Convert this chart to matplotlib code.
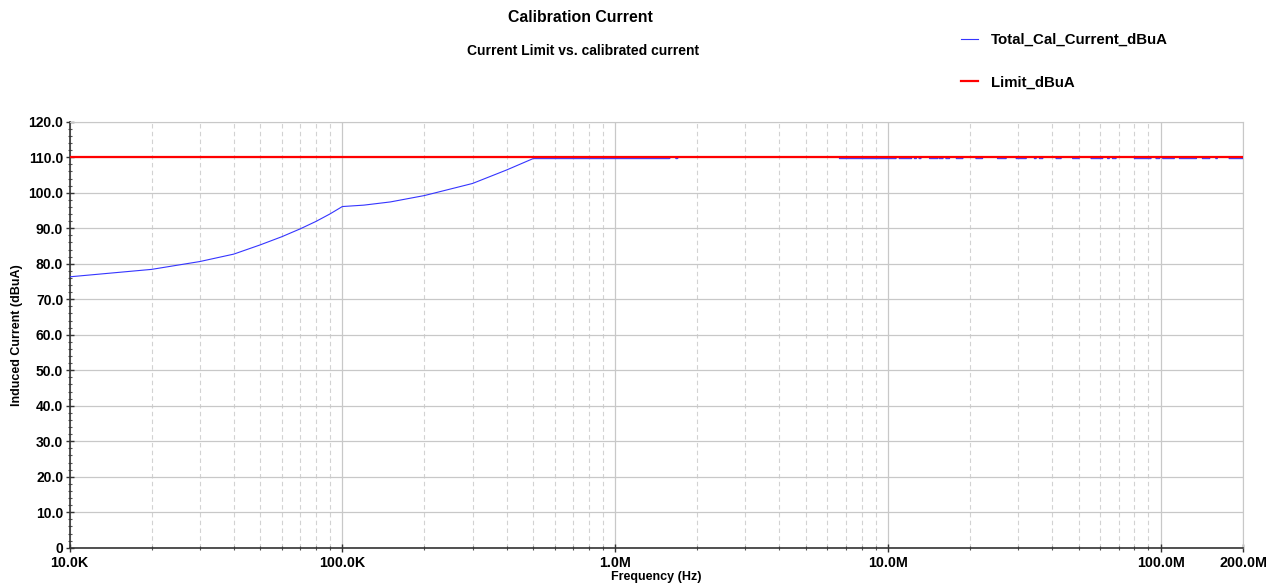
import numpy as np
import matplotlib
matplotlib.use('Agg')
import matplotlib.pyplot as plt
from matplotlib.ticker import FixedLocator, LogLocator, MultipleLocator, FuncFormatter, NullFormatter

plt.rcParams['font.family'] = ['Liberation Sans', 'DejaVu Sans']
plt.rcParams['font.weight'] = 'bold'

# calibrated current sweep, below 1.7 MHz (Hz, dBuA)
sweep_freq = [10e3, 20e3, 30e3, 40e3, 50e3, 60e3, 70e3, 80e3, 90e3, 100e3,
              120e3, 150e3, 200e3, 300e3, 400e3, 500e3, 1.58e6, 1.60e6,
              1.66e6, 1.67e6, 1.69e6, 1.71e6, 6.60e6]
sweep_dbua = [76.3, 78.4, 80.6, 82.7, 85.3, 87.6, 89.8, 91.9, 94.0, 96.1,
              96.5, 97.4, 99.2, 102.6, 106.4, 109.6, 109.6, 110.0,
              110.0, 109.6, 109.6, 110.0, 110.0]

# upper band: stretches where the current sits just under the limit (MHz)
under_start_mhz = [6.64, 11.0, 12.5, 13.0, 14.2, 15.4, 16.3, 17.8, 21.0, 25.2,
                   29.5, 34.4, 35.9, 41.3, 47.5, 55.5, 63.8, 66.5, 80.0, 96.0,
                   101.6, 117, 142, 159, 178]
under_end_mhz = [10.7, 12.2, 12.7, 13.2, 15.2, 15.9, 16.8, 18.8, 22.2, 27.1,
                 32.1, 34.9, 36.9, 43.1, 50.2, 61.2, 64.7, 68.5, 92.0, 98.9,
                 112, 135, 151, 161, 200]
under_dbua = 109.6
at_limit_dbua = 110.0

limit_freq = [10e3, 200e6]
limit_dbua = [110.0, 110.0]

x_ticks = [1e4, 1e5, 1e6, 1e7, 1e8, 2e8]
x_tick_labels = ['10.0K', '100.0K', '1.0M', '10.0M', '100.0M', '200.0M']

# assemble the full calibration trace
cal_freq = list(sweep_freq)
cal_dbua = list(sweep_dbua)
for s, e in zip(under_start_mhz, under_end_mhz):
    cal_freq += [s * 1e6 * 0.998, s * 1e6, e * 1e6, min(e * 1e6 * 1.002, 200e6)]
    cal_dbua += [at_limit_dbua, under_dbua, under_dbua, at_limit_dbua]

fig = plt.figure(figsize=(12.73, 5.86), dpi=100)
ax = fig.add_axes([69.5 / 1273, 1 - 547.7 / 586, (1243 - 69.5) / 1273, (547.7 - 121.7) / 586])

ax.plot(cal_freq, cal_dbua, color='#3535ff', lw=0.8, label='Total_Cal_Current_dBuA', zorder=3)
ax.plot(limit_freq, limit_dbua, color='#ff0000', lw=1.6, label='Limit_dBuA', zorder=4)

ax.set_xscale('log')
ax.set_xlim(1e4, 2e8)
ax.set_ylim(0, 120)

ax.xaxis.set_major_locator(FixedLocator(x_ticks))
ax.set_xticklabels(x_tick_labels)
ax.xaxis.set_minor_locator(LogLocator(base=10, subs=np.arange(2, 10)))
ax.xaxis.set_minor_formatter(NullFormatter())
ax.yaxis.set_major_locator(MultipleLocator(10))
ax.yaxis.set_minor_locator(MultipleLocator(2))
ax.yaxis.set_major_formatter(FuncFormatter(lambda v, p: '0' if v == 0 else f'{v:.1f}'))

ax.grid(which='major', color='#c8c8c8', lw=0.9, ls='-')
ax.grid(which='minor', axis='x', color='#d2d2d2', lw=0.8, ls=(0, (4, 3)))
ax.set_axisbelow(True)

for side in ['top', 'right']:
    ax.spines[side].set_color('#c8c8c8')
for side in ['left', 'bottom']:
    ax.spines[side].set_color('#333333')
    ax.spines[side].set_linewidth(1.2)

ax.tick_params(which='major', direction='inout', length=6, width=1, colors='#333333',
               labelsize=10, labelcolor='black')
ax.tick_params(axis='y', which='major', pad=1.5)
ax.tick_params(axis='x', which='major', labelsize=10.3, pad=3)
ax.tick_params(which='minor', direction='inout', length=3, width=0.8, colors='#555555')
for lbl in ax.get_xticklabels() + ax.get_yticklabels():
    lbl.set_fontweight('bold')

ax.set_xlabel('Frequency (Hz)', fontsize=9, fontweight='bold', va='center')
ax.xaxis.set_label_coords(0.5, -(577 - 547.7) / 426)
ax.set_ylabel('Induced Current (dBuA)', fontsize=9, fontweight='bold', labelpad=4)

fig.text(580 / 1273, 1 - 17 / 586, 'Calibration Current', ha='center', va='center',
         fontsize=11.4, fontweight='bold')
fig.text(583 / 1273, 1 - 51 / 586, 'Current Limit vs. calibrated current', ha='center', va='center',
         fontsize=10, fontweight='bold')

fig.legend(loc='upper left', bbox_to_anchor=(955 / 1273, 1 - 27 / 586), frameon=False,
           prop={'size': 10.8, 'weight': 'bold'}, handlelength=1.15, handletextpad=0.85,
           labelspacing=1.9, borderaxespad=0)

fig.savefig('out.png', dpi=100)
